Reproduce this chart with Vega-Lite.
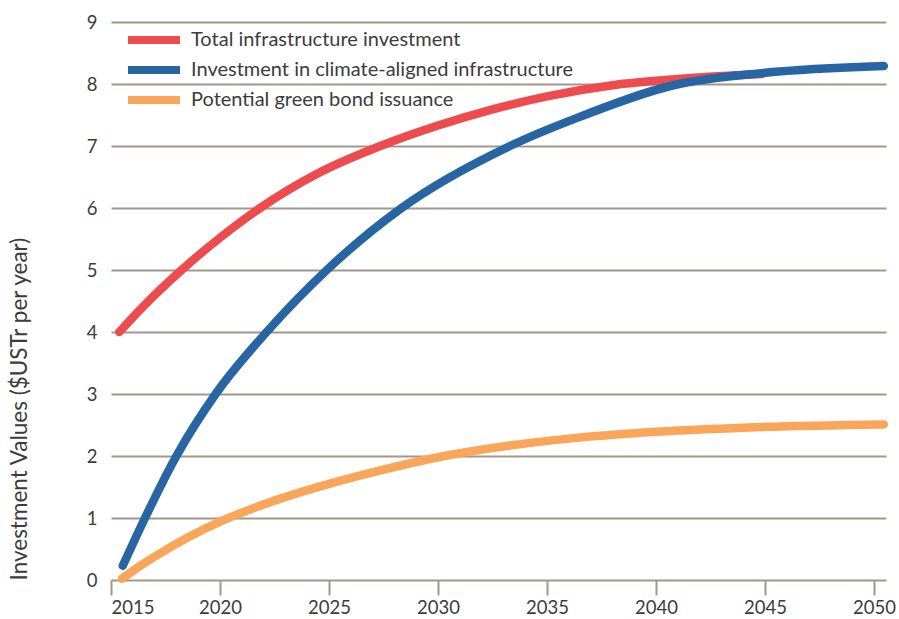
{
  "$schema": "https://vega.github.io/schema/vega-lite/v6.json",
  "width": 775,
  "height": 558,
  "autosize": {"type": "none"},
  "padding": {"left": 111, "top": 22, "right": 13, "bottom": 39},
  "background": "white",
  "config": {
    "view": {"stroke": null},
    "font": "Lato",
    "axis": {"labelFont": "Lato", "titleFont": "Lato"},
    "legend": {"labelFont": "Lato"}
  },
  "data": {
    "values": [
      {"series": "Total infrastructure investment", "year": 2015.38, "value": 4.0},
      {"series": "Total infrastructure investment", "year": 2016.5, "value": 4.42},
      {"series": "Total infrastructure investment", "year": 2018.24, "value": 5.0},
      {"series": "Total infrastructure investment", "year": 2020, "value": 5.52},
      {"series": "Total infrastructure investment", "year": 2021.8, "value": 5.99},
      {"series": "Total infrastructure investment", "year": 2024.5, "value": 6.56},
      {"series": "Total infrastructure investment", "year": 2027.5, "value": 7.02},
      {"series": "Total infrastructure investment", "year": 2030, "value": 7.33},
      {"series": "Total infrastructure investment", "year": 2032.5, "value": 7.59},
      {"series": "Total infrastructure investment", "year": 2035, "value": 7.8},
      {"series": "Total infrastructure investment", "year": 2038, "value": 7.98},
      {"series": "Total infrastructure investment", "year": 2041, "value": 8.08},
      {"series": "Total infrastructure investment", "year": 2044.85, "value": 8.16},
      {"series": "Investment in climate-aligned infrastructure", "year": 2015.54, "value": 0.23},
      {"series": "Investment in climate-aligned infrastructure", "year": 2016.56, "value": 1.0},
      {"series": "Investment in climate-aligned infrastructure", "year": 2018.0, "value": 2.0},
      {"series": "Investment in climate-aligned infrastructure", "year": 2019.8, "value": 3.0},
      {"series": "Investment in climate-aligned infrastructure", "year": 2022.14, "value": 4.0},
      {"series": "Investment in climate-aligned infrastructure", "year": 2024.9, "value": 5.0},
      {"series": "Investment in climate-aligned infrastructure", "year": 2028.33, "value": 6.0},
      {"series": "Investment in climate-aligned infrastructure", "year": 2033.3, "value": 7.0},
      {"series": "Investment in climate-aligned infrastructure", "year": 2036.5, "value": 7.47},
      {"series": "Investment in climate-aligned infrastructure", "year": 2040.8, "value": 7.98},
      {"series": "Investment in climate-aligned infrastructure", "year": 2045, "value": 8.18},
      {"series": "Investment in climate-aligned infrastructure", "year": 2050.45, "value": 8.29},
      {"series": "Potential green bond issuance", "year": 2015.5, "value": 0.02},
      {"series": "Potential green bond issuance", "year": 2016.3, "value": 0.22},
      {"series": "Potential green bond issuance", "year": 2017.25, "value": 0.43},
      {"series": "Potential green bond issuance", "year": 2018.5, "value": 0.68},
      {"series": "Potential green bond issuance", "year": 2020, "value": 0.94},
      {"series": "Potential green bond issuance", "year": 2022.5, "value": 1.28},
      {"series": "Potential green bond issuance", "year": 2025, "value": 1.55},
      {"series": "Potential green bond issuance", "year": 2027.5, "value": 1.78},
      {"series": "Potential green bond issuance", "year": 2030, "value": 1.98},
      {"series": "Potential green bond issuance", "year": 2033.3, "value": 2.17},
      {"series": "Potential green bond issuance", "year": 2036, "value": 2.28},
      {"series": "Potential green bond issuance", "year": 2040, "value": 2.39},
      {"series": "Potential green bond issuance", "year": 2045, "value": 2.47},
      {"series": "Potential green bond issuance", "year": 2050.45, "value": 2.51}
    ]
  },
  "mark": {"type": "line", "interpolate": "monotone", "strokeWidth": 8.5, "strokeCap": "round", "strokeJoin": "round"},
  "encoding": {
    "x": {
      "field": "year", "type": "quantitative",
      "scale": {"domain": [2015, 2050.55], "nice": false, "zero": false},
      "axis": {
        "title": null, "values": [2015, 2020, 2025, 2030, 2035, 2040, 2045, 2050], "format": "d",
        "grid": false, "domain": false, "ticks": true, "tickSize": 15, "tickWidth": 2, "tickColor": "#A1978A",
        "labelFontSize": 18.5, "labelColor": "#3c3c3c", "labelPadding": 3
      }
    },
    "y": {
      "field": "value", "type": "quantitative",
      "scale": {"domain": [0, 9], "nice": false},
      "axis": {
        "title": "Investment Values ($USTr per year)", "titleFontSize": 22.5, "titleFontWeight": "normal", "titleColor": "#3c3c3c",
        "titlePadding": 55, "titleAnchor": "start",
        "values": [0, 1, 2, 3, 4, 5, 6, 7, 8, 9],
        "grid": true, "gridColor": "#A1978A", "gridWidth": 2, "gridOpacity": 1,
        "domain": false, "ticks": false, "labelPadding": 14,
        "labelFontSize": 18.5, "labelColor": "#3c3c3c"
      }
    },
    "color": {
      "field": "series", "type": "nominal",
      "scale": {
        "domain": ["Total infrastructure investment", "Investment in climate-aligned infrastructure", "Potential green bond issuance"],
        "range": ["#EE4B4E", "#2866A3", "#F9A65B"]
      },
      "legend": {
        "title": null, "orient": "none", "legendX": 32.5, "legendY": 7.5,
        "symbolType": "M-4,0H4", "symbolSize": 169, "symbolStrokeWidth": 8,
        "labelFontSize": 20, "labelColor": "#3c3c3c", "labelOffset": 26.5,
        "rowPadding": -3, "labelLimit": 500
      }
    }
  }
}
